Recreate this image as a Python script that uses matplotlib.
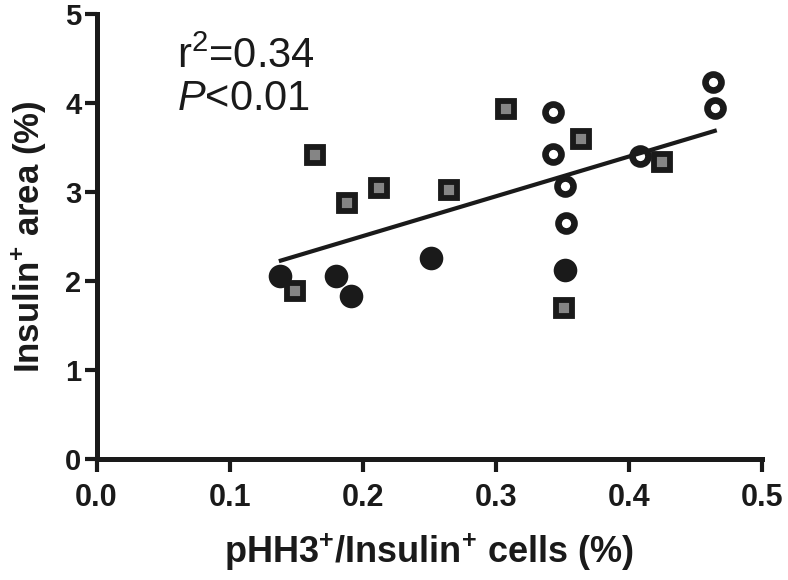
import numpy as np
import matplotlib.pyplot as plt

plt.rcParams['font.family'] = ['Liberation Sans', 'DejaVu Sans']
plt.rcParams['mathtext.fontset'] = 'custom'
plt.rcParams['mathtext.rm'] = 'Liberation Sans'
plt.rcParams['mathtext.it'] = 'Liberation Sans:italic'
plt.rcParams['mathtext.bf'] = 'Liberation Sans:bold'

# filled circles
fill_x = [0.138, 0.180, 0.191, 0.251, 0.352]
fill_y = [2.06, 2.06, 1.83, 2.26, 2.12]
# open circles
open_x = [0.343, 0.343, 0.352, 0.353, 0.408, 0.463, 0.465]
open_y = [3.90, 3.43, 3.07, 2.65, 3.40, 4.24, 3.94]
# gray squares
sq_x = [0.149, 0.164, 0.188, 0.212, 0.265, 0.308, 0.364, 0.425, 0.351]
sq_y = [1.89, 3.41, 2.88, 3.05, 3.02, 3.93, 3.59, 3.34, 1.70]

# regression line
fit_slope = 4.47
fit_intercept = 1.61
fit_range = [0.137, 0.466]

xticks = [0.0, 0.1, 0.2, 0.3, 0.4, 0.5]
xticklabels = ['0.0', '0.1', '0.2', '0.3', '0.4', '0.5']
yticks = [0, 1, 2, 3, 4, 5]

black = '#1a1a1a'
gray = '#858585'

fig = plt.figure(figsize=(7.88, 5.8), dpi=100)
ax = fig.add_axes([0.1225, 0.2086, 0.8445, 0.7674])

ax.plot(fill_x, fill_y, 'o', color=black, ms=17, mew=0, zorder=3)
ax.plot(open_x, open_y, 'o', mfc='white', mec=black, ms=11.5, mew=4.8, zorder=3)
ax.plot(sq_x, sq_y, 's', mfc=gray, mec=black, ms=12.2, mew=4.2, zorder=4)

fx = np.array(fit_range)
ax.plot(fx, fit_slope * fx + fit_intercept, color=black, lw=3, zorder=5,
        solid_capstyle='butt')

ax.text(0.0605, 4.39, 'r$^{2}$=0.34', fontsize=30, color=black)
ax.text(0.0605, 3.92, '$P$<0.01', fontsize=30, color=black)

ax.set_xlim(0, 0.5)
ax.set_ylim(0, 5)
ax.set_xticks(xticks)
ax.set_xticklabels(xticklabels)
ax.set_yticks(yticks)
for s in ['top', 'right']:
    ax.spines[s].set_visible(False)
for s in ['left', 'bottom']:
    ax.spines[s].set_linewidth(3.6)
    ax.spines[s].set_color(black)
ax.tick_params(axis='both', width=3, length=9, color=black, labelcolor=black)
ax.tick_params(axis='x', labelsize=22, pad=8)
ax.tick_params(axis='y', labelsize=21, pad=2)
for lab in ax.get_xticklabels() + ax.get_yticklabels():
    lab.set_fontweight('bold')

ax.set_xlabel('pHH3$^{\\mathbf{+}}$/Insulin$^{\\mathbf{+}}$ cells (%)',
              fontsize=26, fontweight='bold', color=black, labelpad=14)
ax.set_ylabel('Insulin$^{\\mathbf{+}}$ area (%)', fontsize=25,
              fontweight='bold', color=black, labelpad=12)

fig.savefig('out.png', dpi=100)
